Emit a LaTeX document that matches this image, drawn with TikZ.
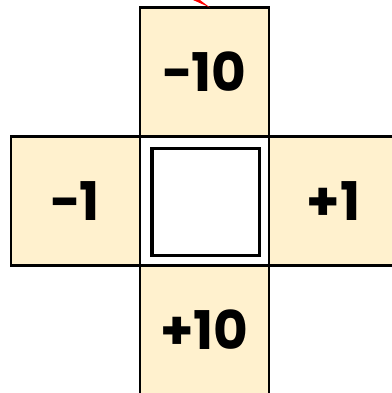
\documentclass[tikz,border=0pt]{standalone}
\usepackage{fontspec}
\usetikzlibrary{positioning}
\newfontfamily\cellfont{Poppins Bold}
\definecolor{cream}{RGB}{255,241,206}

\begin{document}
\begin{tikzpicture}[x=0.75pt,y=-0.75pt,
  cell/.style={draw=black,line width=1.8pt,fill=cream,minimum size=96.75pt,
    inner sep=0pt,outer sep=0pt,font=\cellfont\fontsize{40}{40}\selectfont}]
\useasboundingbox (0,0) rectangle (392,393);
\clip (0,0) rectangle (392,393);
\node[cell,fill=white] (mid) at (204.5,201) {};
\node[cell,above=0pt of mid] (up) {−10};
\node[cell,left=0pt of mid] (lf) {−1};
\node[cell,right=0pt of mid] (rt) {+1};
\node[cell,below=0pt of mid] (dn) {+10};
\node[draw,line width=2.6pt,minimum size=80.5pt,inner sep=0pt] (hole) at (205.8,202) {};
\fill[red] (193,0) -- (200,0) -- (210,7.5) -- cycle;
\end{tikzpicture}
\end{document}
